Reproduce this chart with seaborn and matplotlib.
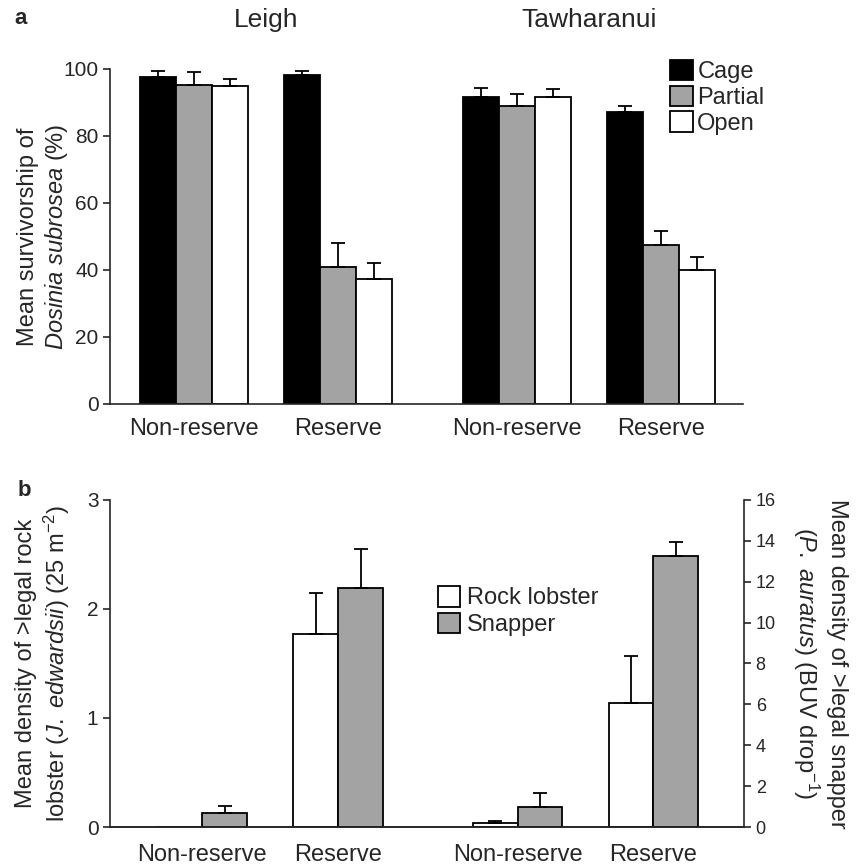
import numpy as np
import pandas as pd
import seaborn as sns
import matplotlib.pyplot as plt

sns.set_style("ticks")
plt.rcParams['font.family'] = ['Liberation Sans', 'DejaVu Sans']
plt.rcParams['mathtext.fontset'] = 'custom'
plt.rcParams['mathtext.rm'] = 'Liberation Sans'
plt.rcParams['mathtext.it'] = 'Liberation Sans:italic'

# ---- panel a data: survivorship (%) ----
pos_a = [0, 1, 2.24, 3.24]
treatments = ['Cage', 'Partial', 'Open']
cage = [97.5, 98.2, 91.7, 87.0]
partial = [95.3, 41.0, 89.0, 47.5]
open_ = [95.0, 37.3, 91.7, 40.0]
cage_err = [2.0, 1.2, 2.5, 2.0]
partial_err = [3.7, 7.0, 3.4, 4.2]
open_err = [2.0, 4.9, 2.2, 3.8]

# ---- panel b data: predator density ----
pos_b = [0, 1, 2.32, 3.32]
species = ['Rock lobster', 'Snapper']
lobster = [0.0, 1.77, 0.034, 1.135]
lobster_err = [0.0, 0.38, 0.024, 0.43]
snapper = [0.67, 11.68, 0.96, 13.26]
snapper_err = [0.36, 1.92, 0.72, 0.70]

site_labels = ['Non-reserve', 'Reserve', 'Non-reserve', 'Reserve']
grey = '#a3a3a3'
colors_a = {'Cage': 'black', 'Partial': grey, 'Open': 'white'}
colors_b = {'Rock lobster': 'white', 'Snapper': grey}

df_a = pd.DataFrame({
    'pos': pos_a * 3,
    'treat': np.repeat(treatments, 4),
    'val': cage + partial + open_,
})
err_a = cage_err + partial_err + open_err

fig = plt.figure(figsize=(8.61, 8.68), dpi=100)


def add_errors(axis, errs):
    # upper error bars at the centres of the bars seaborn drew
    for bar, e in zip(axis.patches, errs):
        if e <= 0:
            continue
        xc = bar.get_x() + bar.get_width() / 2
        axis.errorbar(xc, bar.get_height(), yerr=[[0], [e]], fmt='none',
                      ecolor='black', elinewidth=1.3, capsize=5, capthick=1.3)


# ================= panel a =================
ax = fig.add_axes([0.128, 0.5346, 0.735, 0.386])
sns.barplot(data=df_a, x='pos', y='val', hue='treat', hue_order=treatments,
            palette=colors_a, native_scale=True, width=0.75, errorbar=None,
            edgecolor='black', linewidth=1.3, legend=False, ax=ax)
add_errors(ax, err_a)

ax.set_xlim(-0.583, 3.81)
ax.set_ylim(0, 100)
ax.set_yticks([0, 20, 40, 60, 80, 100])
ax.set_xticks(pos_a)
ax.set_xticklabels(site_labels, fontsize=17)
ax.tick_params(axis='x', length=0, pad=10)
ax.tick_params(axis='y', labelsize=15, length=5, width=1.2)
ax.set_xlabel('')
ax.set_ylabel('Mean survivorship of\n' + r'$\it{Dosinia\ subrosea}$' + ' (%)', fontsize=17)
ax.yaxis.set_label_coords(-0.064, 0.5)
for s in ['left', 'bottom']:
    ax.spines[s].set_linewidth(1.2)
sns.despine(ax=ax)

fig.text(266 / 861, 1 - 20 / 868, 'Leigh', ha='center', va='center', fontsize=19)
fig.text(589 / 861, 1 - 20 / 868, 'Tawharanui', ha='center', va='center', fontsize=19)
fig.text(21 / 861, 1 - 19 / 868, 'a', ha='center', va='center', fontsize=16, fontweight='bold')

handles = [plt.Rectangle((0, 0), 1, 1, facecolor=colors_a[t], edgecolor='black', linewidth=1.3)
           for t in treatments]
ax.legend(handles, treatments, loc='upper left', bbox_to_anchor=(0.87, 1.055),
          frameon=False, fontsize=17, handlelength=0.95, handleheight=0.95,
          handletextpad=0.2, labelspacing=0.1, borderaxespad=0)

# ================= panel b =================
# lobster on the left axis, snapper on the right one; the other species is 0
# on each axis so both dodge slots are kept
df_left = pd.DataFrame({'pos': pos_b * 2, 'sp': np.repeat(species, 4),
                        'val': lobster + [0.0] * 4})
df_right = pd.DataFrame({'pos': pos_b * 2, 'sp': np.repeat(species, 4),
                         'val': [0.0] * 4 + snapper})

axb = fig.add_axes([0.128, 0.0472, 0.736, 0.377])
axr = axb.twinx()

sns.barplot(data=df_left, x='pos', y='val', hue='sp', hue_order=species,
            palette=colors_b, native_scale=True, width=0.66, errorbar=None,
            edgecolor='black', linewidth=1.3, legend=False, ax=axb)
sns.barplot(data=df_right, x='pos', y='val', hue='sp', hue_order=species,
            palette=colors_b, native_scale=True, width=0.66, errorbar=None,
            edgecolor='black', linewidth=1.3, legend=False, ax=axr)
add_errors(axb, lobster_err + [0.0] * 4)
add_errors(axr, [0.0] * 4 + snapper_err)

axb.set_xlim(-0.676, 3.985)
axr.set_xlim(-0.676, 3.985)
axb.set_ylim(0, 3)
axr.set_ylim(0, 16)
axb.set_yticks([0, 1, 2, 3])
axr.set_yticks(range(0, 17, 2))
axb.set_xticks(pos_b)
axb.set_xticklabels(site_labels, fontsize=17)
axb.tick_params(axis='x', length=0, pad=12)
axb.tick_params(axis='y', labelsize=15, length=5, width=1.2)
axr.tick_params(axis='y', labelsize=13, length=5, width=1.2)
axb.set_xlabel('')
axr.set_xlabel('')
axb.set_ylabel('Mean density of >legal rock\nlobster ' + r'($\it{J.\ edwardsii}$)' + r' (25 m$^{-2}$)',
               fontsize=17)
axb.yaxis.set_label_coords(-0.06, 0.5)
axr.set_ylabel('Mean density of >legal snapper\n' + r'($\it{P.\ auratus}$)' + r' (BUV drop$^{-1}$)',
               fontsize=17, rotation=270, labelpad=52)
for a in (axb, axr):
    a.spines['top'].set_visible(False)
    for s in ['left', 'bottom', 'right']:
        a.spines[s].set_linewidth(1.2)
axb.spines['right'].set_visible(False)
axr.spines['left'].set_visible(False)

fig.text(24 / 861, 1 - 491 / 868, 'b', ha='center', va='center', fontsize=16, fontweight='bold')

handles_b = [plt.Rectangle((0, 0), 1, 1, facecolor=colors_b[s], edgecolor='black', linewidth=1.3)
             for s in species]
axr.legend(handles_b, species, loc='upper left', bbox_to_anchor=(0.502, 0.765),
           frameon=False, fontsize=17, handlelength=0.95, handleheight=0.95,
           handletextpad=0.3, labelspacing=0.15, borderaxespad=0)

fig.savefig('out.png', dpi=100)
